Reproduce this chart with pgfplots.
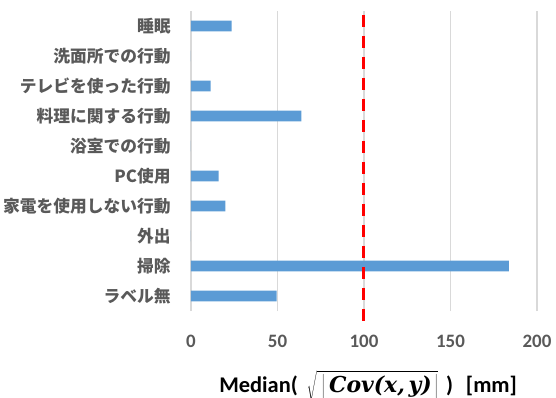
\documentclass[border=0pt]{standalone}
\usepackage{pgfplots}
\pgfplotsset{compat=1.18}
\usepackage{fontspec}
\setmainfont{Carlito}
\newfontfamily\jp{Noto Sans CJK JP}
\newfontfamily\mathlike{DejaVu Serif}
\definecolor{textgray}{HTML}{595959}
\definecolor{barblue}{HTML}{5B9BD5}
\definecolor{gridgray}{HTML}{D9D9D9}
\begin{document}
\begin{tikzpicture}
\begin{axis}[
  at={(0,0)}, anchor=south west,
  scale only axis, width=346bp, height=300bp,
  xbar, bar width=0.36,
  xmin=0, xmax=200, ymin=-0.5, ymax=9.5,
  xtick={0,50,100,150,200},
  ytick={0,1,2,3,4,5,6,7,8,9},
  yticklabels={ラベル無,掃除,外出,家電を使用しない行動,PC使用,浴室での行動,料理に関する行動,テレビを使った行動,洗面所での行動,睡眠},
  xmajorgrids, grid style={draw=gridgray, line width=1.2bp},
  axis line style={draw=none},
  tick style={draw=none},
  /pgf/number format/assume math mode=true,
  xticklabel style={font=\fontsize{19}{19}\selectfont\bfseries, text=textgray, anchor=base, inner sep=0pt, yshift=-36bp},
  yticklabel style={font=\fontsize{16.8}{16.8}\selectfont\jp\bfseries, text=textgray, anchor=east, inner sep=0pt, xshift=-16bp},
  clip=false,
  xlabel={Median(\hspace{9bp}$\sqrt{\hspace{5bp}\left|\hspace{4bp}\mbox{\fontsize{22}{22}\selectfont\mathlike\bfseries\itshape Cov(x,\,y)}\hspace{3bp}\right|}$\hspace{8bp})\hspace{13bp}[mm]},
  xlabel style={at={(axis description cs:0.512,0)}, anchor=base, yshift=-81bp, inner sep=0pt, font=\fontsize{22.5}{22.5}\selectfont\bfseries, text=black},
]
\addplot[fill=barblue, draw=none] coordinates {
  (49.5,0) (183.8,1) (0,2) (19.8,3) (16.0,4) (0,5) (63.8,6) (11.4,7) (0,8) (23.5,9)
};
\addplot[sharp plot, red, line width=3bp, dash pattern=on 12bp off 9bp, forget plot] coordinates {(100,9.37) (100,-1.07)};
\end{axis}
\pgfresetboundingbox
\useasboundingbox (-191bp,-87bp) rectangle (365bp,311bp);
\end{tikzpicture}
\end{document}
